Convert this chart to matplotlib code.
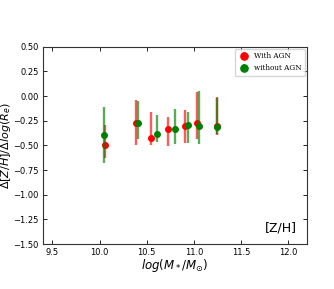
import matplotlib
matplotlib.use("Agg")
import matplotlib.pyplot as plt
import numpy as np

# Data
mass_agn = [10.06, 10.39, 10.55, 10.73, 10.91, 11.03, 11.25]
grad_agn = [-0.50, -0.277, -0.43, -0.337, -0.307, -0.277, -0.30]
err_agn_lo = [0.13, 0.22, 0.07, 0.17, 0.17, 0.16, 0.095]
err_agn_hi = [0.21, 0.24, 0.265, 0.12, 0.17, 0.315, 0.29]

mass_noagn = [10.05, 10.41, 10.61, 10.80, 10.94, 11.05, 11.25]
grad_noagn = [-0.395, -0.277, -0.39, -0.33, -0.297, -0.307, -0.31]
err_noagn_lo = [0.28, 0.16, 0.08, 0.16, 0.18, 0.18, 0.08]
err_noagn_hi = [0.28, 0.23, 0.195, 0.20, 0.14, 0.36, 0.29]

fig = plt.figure(figsize=(3.34, 2.89), dpi=100)
ax = fig.add_axes([43/334, 1-244/289, (307-43)/334, (244-46.7)/289])

ax.errorbar(mass_agn, grad_agn, yerr=[err_agn_lo, err_agn_hi], fmt='o',
            color='red', ms=4, elinewidth=1.7, ecolor=(1, 0, 0, 0.65),
            label='With AGN', zorder=3)
ax.errorbar(mass_noagn, grad_noagn, yerr=[err_noagn_lo, err_noagn_hi], fmt='o',
            color='green', ms=4, elinewidth=1.7, ecolor=(0, 0.5, 0, 0.65),
            label='without AGN', zorder=4)

ax.set_xlim(9.4, 12.2)
ax.set_ylim(-1.5, 0.5)
ax.set_xticks([9.5, 10.0, 10.5, 11.0, 11.5, 12.0])
ax.set_yticks(np.arange(-1.5, 0.51, 0.25))
ax.tick_params(direction='in', top=True, right=True, labelsize=6, length=3, width=0.6, pad=3)
for s in ax.spines.values():
    s.set_linewidth(0.8)
    s.set_color('#333333')

ax.set_xlabel(r'$log(M_*/M_{\odot})$', fontsize=8.5, labelpad=0)
ax.set_ylabel(r'$\Delta[Z/H]/\Delta log(R_e)$', fontsize=8, labelpad=0)
ax.text(0.962, 0.081, '[Z/H]', transform=ax.transAxes, ha='right', va='center', fontsize=9)

leg = ax.legend(loc='upper right', prop={'family': 'DejaVu Serif', 'size': 5.2},
                markerscale=1.3, handletextpad=0.5, handlelength=1.6, borderpad=0.5,
                labelspacing=0.55, framealpha=0.8, borderaxespad=0.3)

fig.savefig('out.png', dpi=100)
